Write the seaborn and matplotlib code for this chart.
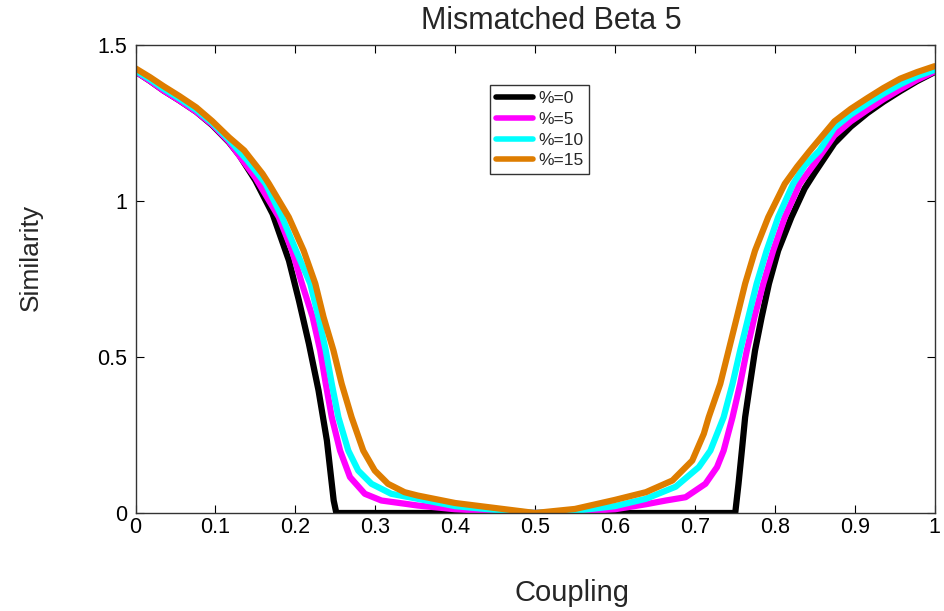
import numpy as np
import pandas as pd
import matplotlib
matplotlib.use("Agg")
import matplotlib.pyplot as plt
import seaborn as sns

# %=0
x_p0 = [0.0, 0.018, 0.035, 0.055, 0.076, 0.096, 0.117, 0.13, 0.15, 0.1715, 0.192,
        0.2045, 0.217, 0.229, 0.2395, 0.248, 0.2513, 0.5, 0.7505, 0.7546,
        0.7588, 0.7629, 0.769, 0.7753, 0.7836, 0.7927, 0.8042, 0.8208, 0.8374,
        0.8498, 0.8746, 0.895, 0.916, 0.936, 0.957, 0.978, 1.0]
y_p0 = [1.415, 1.385, 1.354, 1.322, 1.286, 1.243, 1.188, 1.146, 1.066, 0.959, 0.809,
        0.681, 0.542, 0.393, 0.232, 0.04, 0.0, 0.0, 0.0, 0.0935,
        0.2, 0.307, 0.414, 0.521, 0.628, 0.735, 0.841, 0.948, 1.04,
        1.09, 1.185, 1.238, 1.282, 1.318, 1.352, 1.384, 1.413]

# %=5
x_p5 = [0.0, 0.018, 0.035, 0.055, 0.076, 0.096, 0.117, 0.15, 0.1794, 0.1959,
        0.2083, 0.2216, 0.2311, 0.2381, 0.2456, 0.256, 0.2684, 0.287, 0.3077,
        0.353, 0.4, 0.45, 0.5, 0.55, 0.6, 0.6387, 0.6636, 0.6884, 0.7132,
        0.7277, 0.736, 0.7471, 0.7567, 0.765, 0.7745, 0.7856, 0.798, 0.8125,
        0.8312, 0.8498, 0.8746, 0.895, 0.916, 0.936, 0.957, 0.978, 1.0]
y_p5 = [1.415, 1.385, 1.354, 1.322, 1.286, 1.245, 1.19, 1.075, 0.948, 0.841,
        0.735, 0.628, 0.521, 0.414, 0.307, 0.2, 0.115, 0.0615, 0.04,
        0.024, 0.012, 0.005, 0.0, 0.004, 0.012, 0.028, 0.04, 0.0506, 0.0935,
        0.147, 0.2, 0.307, 0.414, 0.521, 0.628, 0.735, 0.841, 0.948,
        1.055, 1.12, 1.21, 1.255, 1.292, 1.326, 1.358, 1.388, 1.415]

# %=10
x_p10 = [0.0, 0.018, 0.035, 0.055, 0.076, 0.096, 0.117, 0.14, 0.1629, 0.1835,
         0.2009, 0.2187, 0.229, 0.2381, 0.2456, 0.2539, 0.2663, 0.2787, 0.2953,
         0.32, 0.353, 0.4, 0.45, 0.5, 0.55, 0.6, 0.6387, 0.676, 0.7049, 0.7194,
         0.736, 0.7471, 0.7567, 0.767, 0.7773, 0.7898, 0.8042, 0.8229, 0.838,
         0.856, 0.8746, 0.895, 0.916, 0.936, 0.957, 0.978, 1.0]
y_p10 = [1.418, 1.39, 1.36, 1.328, 1.292, 1.25, 1.196, 1.13, 1.055, 0.948,
         0.841, 0.735, 0.628, 0.521, 0.414, 0.307, 0.2, 0.136, 0.0935,
         0.0615, 0.0455, 0.022, 0.01, 0.0, 0.007, 0.022, 0.0455, 0.0843, 0.147, 0.2,
         0.307, 0.414, 0.521, 0.628, 0.735, 0.841, 0.948, 1.055, 1.115,
         1.162, 1.235, 1.277, 1.312, 1.344, 1.374, 1.4, 1.42]

# %=15
x_p15 = [0.0, 0.018, 0.035, 0.055, 0.076, 0.096, 0.117, 0.136, 0.159, 0.167,
         0.1918, 0.2104, 0.225, 0.2353, 0.2477, 0.258, 0.2704, 0.285, 0.2994,
         0.316, 0.3367, 0.353, 0.4, 0.45, 0.5, 0.55, 0.6, 0.6387, 0.6719,
         0.6967, 0.7112, 0.7173, 0.7318, 0.7422, 0.7526, 0.7629, 0.7753,
         0.7918, 0.8125, 0.828, 0.8436, 0.8746, 0.895, 0.916, 0.936, 0.957,
         0.978, 1.0]
y_p15 = [1.425, 1.397, 1.368, 1.336, 1.30, 1.256, 1.204, 1.162, 1.087, 1.055,
         0.948, 0.841, 0.735, 0.628, 0.521, 0.414, 0.307, 0.2, 0.136,
         0.0935, 0.0667, 0.056, 0.032, 0.016, 0.0, 0.013, 0.042, 0.0667, 0.1042,
         0.168, 0.254, 0.307, 0.414, 0.521, 0.628, 0.735, 0.841,
         0.948, 1.055, 1.11, 1.16, 1.255, 1.295, 1.33, 1.362, 1.392,
         1.413, 1.432]

labels = ["%=0", "%=5", "%=10", "%=15"]
colors = ["#000000", "#FF00FF", "#00FFFF", "#DE7D00"]
xticks = [0, 0.1, 0.2, 0.3, 0.4, 0.5, 0.6, 0.7, 0.8, 0.9, 1]
xticklabels = ["0", "0.1", "0.2", "0.3", "0.4", "0.5", "0.6", "0.7", "0.8", "0.9", "1"]
yticks = [0, 0.5, 1, 1.5]
yticklabels = ["0", "0.5", "1", "1.5"]

frames = []
for lab, xs, ys in zip(labels, [x_p0, x_p5, x_p10, x_p15], [y_p0, y_p5, y_p10, y_p15]):
    frames.append(pd.DataFrame({"Coupling": xs, "Similarity": ys, "series": lab}))
df = pd.concat(frames, ignore_index=True)

sns.set_theme(style="white")
plt.rcParams["font.family"] = ["Liberation Sans", "DejaVu Sans"]

fig = plt.figure(figsize=(9.45, 6.11), dpi=100)
ax = fig.add_axes([0.1434, 0.1604, 0.8456, 0.7660])

sns.lineplot(data=df, x="Coupling", y="Similarity", hue="series",
             hue_order=labels, palette=dict(zip(labels, colors)),
             linewidth=4.5, ax=ax, estimator=None, sort=False)

ax.set_xlim(0, 1)
ax.set_ylim(0, 1.5)
ax.set_xticks(xticks)
ax.set_xticklabels(xticklabels, fontsize=15.5)
ax.set_yticks(yticks)
ax.set_yticklabels(yticklabels, fontsize=15.5)
ax.tick_params(axis="both", direction="in", length=6, width=0.8, top=True, right=True,
               bottom=True, left=True, colors="black")
ax.tick_params(axis="x", pad=3)
ax.tick_params(axis="y", pad=6)
for s in ax.spines.values():
    s.set_color("#333333")
    s.set_linewidth(1.0)

ax.text(0.52, 1.034, "Mismatched Beta 5", transform=ax.transAxes,
        ha="center", va="baseline", fontsize=22)
ax.set_xlabel("Coupling", fontsize=21)
ax.xaxis.set_label_coords(0.546, -0.142)
ax.set_ylabel("Similarity", fontsize=19)
ax.yaxis.set_label_coords(-0.116, 0.546)

leg = ax.legend(loc="upper left", bbox_to_anchor=(0.444, 0.9145), fontsize=12.5,
                handlelength=2.1, handletextpad=0.3, borderpad=0.35,
                labelspacing=0.32, borderaxespad=0, frameon=True, fancybox=False)
leg.get_frame().set_edgecolor("black")
leg.get_frame().set_linewidth(1.0)
for line in leg.get_lines():
    line.set_linewidth(4.0)

fig.savefig("out.png", dpi=100)
